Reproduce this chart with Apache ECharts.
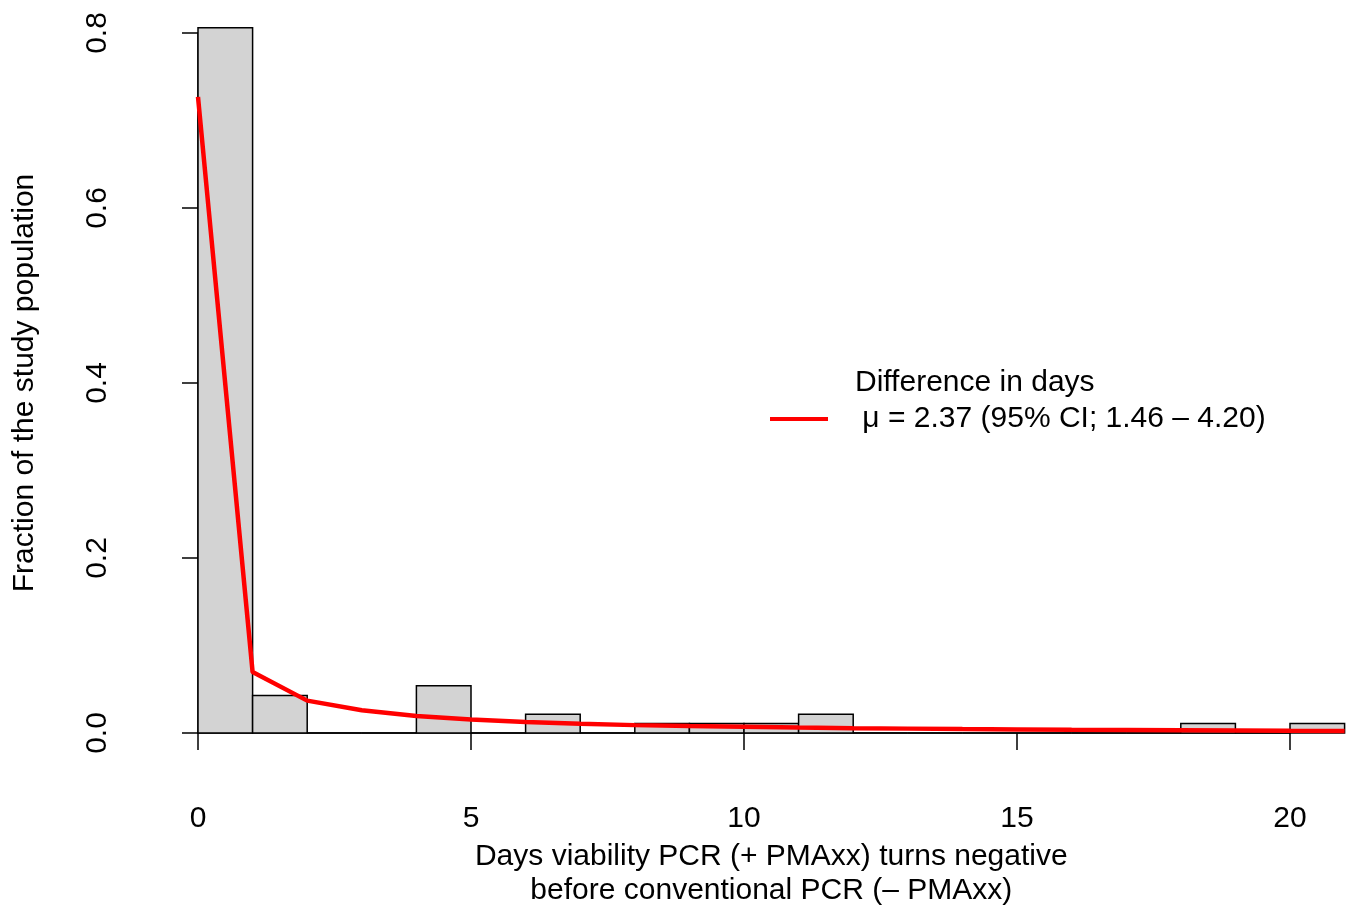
<!DOCTYPE html>
<html>
<head>
<meta charset="utf-8">
<script src="https://cdn.jsdelivr.net/npm/echarts@6/dist/echarts.min.js"></script>
<style>
html,body{margin:0;padding:0;background:#fff;}
#chart{width:1354px;height:906px;}
</style>
</head>
<body>
<div id="chart"></div>
<script>
// Histogram bins (days), bin width 1
const binStarts = [0,1,2,3,4,5,6,7,8,9,10,11,12,13,14,15,16,17,18,19,20];
const binFractions = [0.806,0.043,0,0,0.054,0,0.0215,0,0.0108,0.0108,0.0108,0.0215,0,0,0,0,0,0,0.0108,0,0.0108];
// Fitted density curve
const curveX = [0,1,2,3,4,5,6,7,8,9,10,11,12,13,14,15,16,17,18,19,20,21];
const curveY = [0.727,0.0697,0.037,0.026,0.0195,0.0155,0.0125,0.0105,0.009,0.008,0.0072,0.0062,0.0055,0.005,0.0045,0.0041,0.0037,0.0034,0.0031,0.0028,0.0025,0.0023];
const xTicks = [0,5,10,15,20];
const yTicks = [0,0.2,0.4,0.6,0.8];
const legendTitle = 'Difference in days';
const legendName = ' μ = 2.37 (95% CI; 1.46 – 4.20)';
const xLabel = 'Days viability PCR (+ PMAxx) turns negative\nbefore conventional PCR (– PMAxx)';
const yLabel = 'Fraction of the study population';

const FONT = 'Liberation Sans, Arial, Helvetica, sans-serif';
const FS = 30;
const UNIT = 54.6;

const chart = echarts.init(document.getElementById('chart'));
const histData = binStarts.map((s,i)=>[s, s+1, binFractions[i]]);
const curveData = curveX.map((x,i)=>[x, curveY[i]]);

chart.setOption({
  animation:false,
  backgroundColor:'#fff',
  textStyle:{fontFamily:FONT},
  grid:[
    {left:198, top:33, width:21*UNIT, height:700, outerBoundsMode:'none', containLabel:false},
    {left:198, top:33, width:20*UNIT, height:700, outerBoundsMode:'none', containLabel:false}
  ],
  xAxis:[
    {type:'value', gridIndex:0, min:0, max:21,
     axisLine:{show:false}, axisTick:{show:false}, axisLabel:{show:false}, splitLine:{show:false},
     name:xLabel, nameLocation:'middle', nameGap:107,
     nameTextStyle:{fontSize:FS, color:'#000', fontFamily:FONT, lineHeight:34}},
    {type:'value', gridIndex:1, min:0, max:20, interval:5, offset:30,
     axisLine:{show:true, lineStyle:{color:'#000', width:1.5}},
     axisTick:{show:true, length:17, lineStyle:{color:'#000', width:1.5}},
     axisLabel:{show:true, margin:41, fontSize:FS, color:'#000', fontFamily:FONT},
     splitLine:{show:false}}
  ],
  yAxis:[
    {type:'value', gridIndex:0, min:0, max:0.8, interval:0.2, offset:48,
     axisLine:{show:true, lineStyle:{color:'#000', width:1.5}},
     axisTick:{show:true, length:16, lineStyle:{color:'#000', width:1.5}},
     axisLabel:{show:true, rotate:90, margin:37, fontSize:FS, color:'#000', fontFamily:FONT,
       formatter:v=>v.toFixed(1)},
     splitLine:{show:false},
     name:yLabel, nameLocation:'middle', nameGap:110, nameRotate:90,
     nameTextStyle:{fontSize:FS, color:'#000', fontFamily:FONT}},
    {type:'value', gridIndex:1, min:0, max:0.8, show:false}
  ],
  legend:{
    show:true, left:770, top:404, padding:0, icon:'rect', itemWidth:58, itemHeight:4, itemGap:0,
    textStyle:{fontSize:FS, color:'#000', fontFamily:FONT, padding:[0,0,0,21]},
    data:[{name:legendName}]
  },
  graphic:[
    {type:'text', left:855, top:368, style:{text:legendTitle, font:FS+'px '+FONT, fill:'#000'}}
  ],
  series:[
    {type:'custom', name:'hist', xAxisIndex:0, yAxisIndex:0, data:histData,
     renderItem:function(params, api){
       const p0 = api.coord([api.value(0), 0]);
       const p1 = api.coord([api.value(1), api.value(2)]);
       return {type:'rect', shape:{x:p0[0], y:p1[1], width:p1[0]-p0[0], height:p0[1]-p1[1]},
         style:{fill:'#d3d3d3', stroke:'#000', lineWidth:1.5}};
     }, z:2},
    {type:'line', name:legendName, xAxisIndex:0, yAxisIndex:0, data:curveData,
     showSymbol:false, symbol:'none', lineStyle:{color:'#ff0000', width:4.5}, itemStyle:{color:'#ff0000'}, z:3}
  ]
});
</script>
</body>
</html>
